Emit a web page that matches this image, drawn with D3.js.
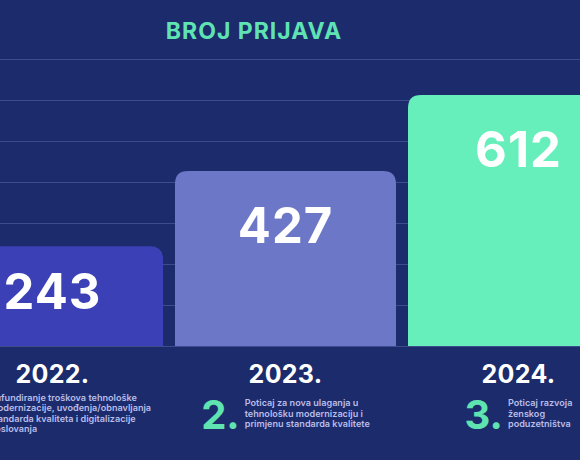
<!DOCTYPE html>
<html>
<head>
<meta charset="utf-8">
<script src="https://cdn.jsdelivr.net/npm/d3@7"></script>
<style>
  body { margin: 0; background: #1c2b6b; }
  svg { display: block; }
  text { font-family: Inter, "Open Sans", sans-serif; }
</style>
</head>
<body>
<script>
// data
var years = ['2022.', '2023.', '2024.'];
var values = [243, 427, 612];
var numbers = ['1.', '2.', '3.'];
var descriptions = [
    ['Sufundiranje troškova tehnološke', 'modernizacije, uvođenja/obnavljanja', 'standarda kvaliteta i digitalizacije', 'poslovanja'],
    ['Poticaj za nova ulaganja u', 'tehnološku modernizaciju i', 'primjenu standarda kvalitete'],
    ['Poticaj razvoja', 'ženskog', 'poduzetništva']
];
var gridTicks = [0, 100, 200, 300, 400, 500, 600, 700];

var width = 580;
var height = 460;

var canvas = d3.select('body')
    .append('svg')
    .attr('width', width)
    .attr('height', height)

canvas.append('rect')
    .attr('width', width)
    .attr('height', height)
    .attr('fill', '#1c2b6b')

var x = d3.scaleBand()
    .domain(years)
    .range([-58, 629])
    .paddingInner(12 / 233)

var y = d3.scaleLinear()
    .domain([0, 700])
    .range([346, 59])

var color = d3.scaleOrdinal()
    .domain(years)
    .range(['#3b40b6', '#6c77c8', '#66eebb'])

// gridlines
var grid = canvas.append('g')
    .call(d3.axisLeft(y).tickValues(gridTicks).tickSize(-width).tickFormat(''))
grid.select('.domain').remove()
grid.selectAll('line')
    .attr('stroke', '#3d4c8c')
    .attr('stroke-width', 1.2)

// title
canvas.append('text')
    .text('BROJ PRIJAVA')
    .attr('x', 254)
    .attr('y', 39)
    .attr('text-anchor', 'middle')
    .attr('fill', '#5fe3b3')
    .attr('font-size', 23)
    .attr('font-weight', 700)
    .attr('letter-spacing', 1)

// bars with rounded tops
function barPath(x0, y0, w, h, r) {
    return 'M' + x0 + ',' + (y0 + h) +
        'V' + (y0 + r) +
        'Q' + x0 + ',' + y0 + ' ' + (x0 + r) + ',' + y0 +
        'H' + (x0 + w - r) +
        'Q' + (x0 + w) + ',' + y0 + ' ' + (x0 + w) + ',' + (y0 + r) +
        'V' + (y0 + h) + 'Z';
}

canvas.selectAll('.bar')
    .data(values)
    .enter()
    .append('path')
    .attr('class', 'bar')
    .attr('fill', function (d, i) { return color(years[i]); })
    .attr('d', function (d, i) {
        return barPath(x(years[i]), y(d), x.bandwidth(), y(0) - y(d), 13);
    })

// value labels
canvas.selectAll('.num')
    .data(values)
    .enter()
    .append('text')
    .attr('class', 'num')
    .attr('x', function (d, i) { return x(years[i]) + x.bandwidth() / 2; })
    .attr('y', function (d) { return y(d) + Math.min(72, (y(0) - y(d)) * 0.63); })
    .attr('text-anchor', 'middle')
    .attr('fill', '#ffffff')
    .attr('font-size', 49)
    .attr('font-weight', 700)
    .attr('letter-spacing', 1)
    .text(function (d) { return d; })

// year labels
canvas.selectAll('.year')
    .data(years)
    .enter()
    .append('text')
    .attr('class', 'year')
    .attr('x', function (d) { return x(d) + x.bandwidth() / 2; })
    .attr('y', 383)
    .attr('text-anchor', 'middle')
    .attr('fill', '#ffffff')
    .attr('font-size', 25)
    .attr('font-weight', 700)
    .attr('letter-spacing', 0.3)
    .text(function (d) { return d; })

// number + description under each year
years.forEach(function (yr, i) {
    var g = canvas.append('g');
    var big = g.append('text')
        .attr('y', 429)
        .attr('fill', '#5fe3b0')
        .attr('font-size', 40)
        .attr('font-weight', 700)
        .text(numbers[i]);
    var lines = descriptions[i];
    var lh = 10.5;
    var top = 413 - (lines.length - 1) * lh / 2 + 3.5;
    var desc = g.append('g');
    lines.forEach(function (l, j) {
        desc.append('text')
            .attr('y', top + j * lh)
            .attr('fill', '#b9bde8')
            .attr('font-size', 9.1)
            .attr('font-weight', 600)
            .text(l);
    });
    var bw = big.node().getComputedTextLength();
    var tw = d3.max(desc.selectAll('text').nodes(), function (n) { return n.getComputedTextLength(); });
    var gap = 5;
    var total = bw + gap + tw;
    var left = x(yr) + x.bandwidth() / 2 - total / 2;
    big.attr('x', left);
    desc.selectAll('text').attr('x', left + bw + gap);
});
</script>
</body>
</html>
